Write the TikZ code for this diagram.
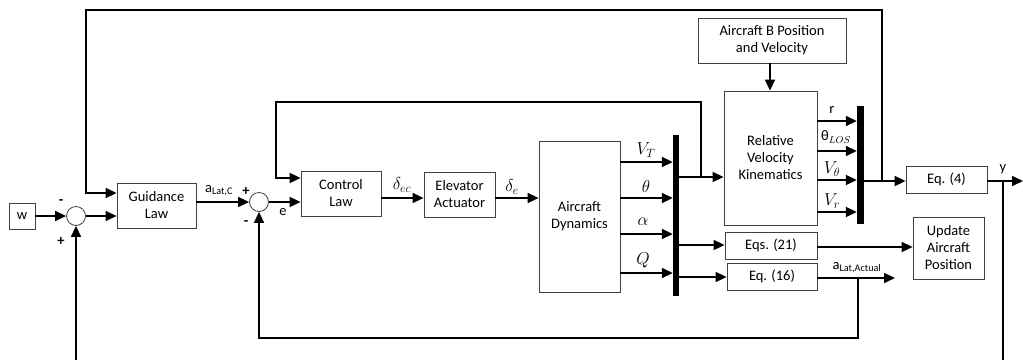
\documentclass[tikz,border=0pt]{standalone}
\usepackage{fontspec}
\setmainfont{Carlito}
\usetikzlibrary{arrows.meta}
\begin{document}
\begin{tikzpicture}[x=1pt,y=-1pt,
  font=\fontsize{14.5}{17}\selectfont,
  blk/.style={draw=black!75,line width=0.8pt,rectangle,align=center,inner sep=0pt},
  sumc/.style={draw=black!75,line width=0.8pt,circle,minimum size=19pt,inner sep=0pt},
  barr/.style={fill=black,draw=none,rectangle,inner sep=0pt},
  sig/.style={line width=1.6pt,-{Triangle[length=11pt,width=10pt]}},
  wire/.style={line width=1.6pt},
  lbl/.style={inner sep=0pt},
  mlbl/.style={inner sep=0pt,font=\fontsize{17}{19}\selectfont}
]
\useasboundingbox (0,0) rectangle (1023,360);
% blocks
\node[blk,minimum width=26pt,minimum height=26pt] (w) at (22,216) {w};
\node[sumc] (s1) at (76,216) {};
\node[blk,minimum width=79pt,minimum height=45pt] (gl) at (156.5,205.5) {Guidance\\Law};
\node[sumc] (s2) at (259,202) {};
\node[blk,minimum width=80pt,minimum height=45pt] (cl) at (341,193.5) {Control\\Law};
\node[blk,minimum width=71pt,minimum height=45pt] (ea) at (459.5,194.5) {Elevator\\Actuator};
\node[blk,minimum width=81pt,minimum height=151pt] (ad) at (579.5,216.5) {Aircraft\\Dynamics};
\node[barr,minimum width=6pt,minimum height=161pt] (b1) at (676,215.5) {};
\node[blk,minimum width=93pt,minimum height=134pt] (rv) at (770.5,158) {Relative\\Velocity\\Kinematics};
\node[blk,minimum width=148pt,minimum height=45pt] (ab) at (772,40.5) {Aircraft B Position\\and Velocity};
\node[barr,minimum width=7pt,minimum height=118pt] (b2) at (860.5,165) {};
\node[blk,minimum width=81pt,minimum height=27pt] (eq4) at (946.5,179.5) {Eq. (4)};
\node[blk,minimum width=92pt,minimum height=27pt] (eq21) at (771,245.5) {Eqs. (21)};
\node[blk,minimum width=90pt,minimum height=27pt] (eq16) at (772,276.5) {Eq. (16)};
\node[blk,minimum width=71pt,minimum height=62pt] (up) at (948.5,248) {Update\\Aircraft\\Position};
% coordinates
\coordinate (j1) at (701,177);
\coordinate (j4) at (882,181);
\coordinate (j5) at (1003,181);
\coordinate (j6) at (858,278);
\coordinate (yout) at (1023,181);
\coordinate (aout) at (895,278);
\coordinate (bot1) at (76,360);
\coordinate (bot5) at (1003,360);
% forward path
\draw[sig] (w.east) -- (s1.west);
\draw[sig] (s1.east) -- (s1.east -| gl.west);
\draw[sig] (gl.east |- s2) -- (s2.west);
\draw[sig] (s2.east) -- (s2.east -| cl.west);
\draw[sig] (cl.east |- 0,198) -- (ea.west |- 0,198);
\draw[sig] (ea.east |- 0,198) -- (ad.west |- 0,198);
\foreach \yy in {162,198,234,273} \draw[sig] (ad.east |- 0,\yy) -- (b1.west |- 0,\yy);
\draw[sig] (b1.east |- j1) -- (rv.west |- j1);
\draw[sig] (b1.east |- 0,245) -- (eq21.west |- 0,245);
\draw[sig] (b1.east |- 0,277) -- (eq16.west |- 0,277);
\draw[sig] (ab.south -| 770,0) -- (rv.north -| 770,0);
\foreach \yy in {121,151,180,212} \draw[sig] (rv.east |- 0,\yy) -- (b2.west |- 0,\yy);
\draw[sig] (b2.east |- j4) -- (eq4.west |- j4);
\draw[sig] (eq4.east |- j4) -- (yout);
\draw[sig] (eq21.east |- 0,247) -- (up.west |- 0,247);
\draw[sig] (eq16.east |- 0,278) -- (aout);
% feedback loops
\draw[sig] (j4) -- (882,10) -- (86,10) -- (86,193) -- (gl.west |- 0,193);
\draw[sig] (j1) -- (701,102) -- (276,102) -- (276,178) -- (cl.west |- 0,178);
\draw[sig] (j6) -- (858,338) -- (259,338) -- (s2.south);
\draw[sig] (bot1) -- (s1.south);
\draw[wire] (j5) -- (bot5);
% labels
\node[lbl] (m1) at (61,202) {\textbf{-}};
\node[lbl] (p1) at (61,241) {\textbf{+}};
\node[lbl] (p2) at (246,191) {\textbf{+}};
\node[lbl] (m2) at (246,223) {\textbf{-}};
\node[lbl] (le) at (283,212) {e};
\node[lbl] (laC) at (219,191) {a\textsubscript{Lat,C}};
\node[mlbl] (ldec) at (402,185) {$\delta_{ec}$};
\node[mlbl] (lde) at (512,187) {$\delta_{e}$};
\node[mlbl] (lvt) at (646,150) {$V_T$};
\node[mlbl] (lth) at (646,186) {$\theta$};
\node[mlbl] (lal) at (643,222) {$\alpha$};
\node[mlbl] (lq) at (643,260) {$Q$};
\node[lbl] (lr) at (832,110) {r};
\node[lbl] (llos) at (836,137) {θ$_{LOS}$};
\node[mlbl] (lvth) at (832,169) {$V_\theta$};
\node[mlbl] (lvr) at (832,201) {$V_r$};
\node[lbl] (ly) at (1003,169) {y};
\node[lbl] (laA) at (857,268) {a\textsubscript{Lat,Actual}};
\end{tikzpicture}
\end{document}
